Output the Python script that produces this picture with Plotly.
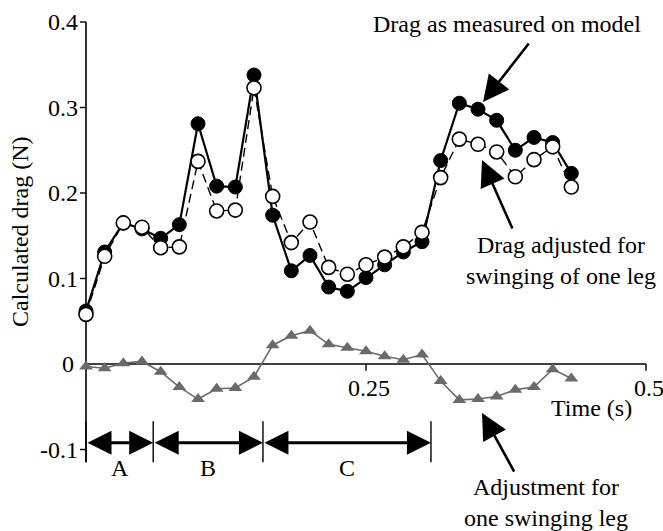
import plotly.graph_objects as go

# Time base: one frame every 1/60 s
n_frames = 27
time_s = [i / 60 for i in range(n_frames)]

# Drag as measured on the model (N)
drag_measured = [0.062, 0.131, 0.165, 0.158, 0.147, 0.163, 0.281, 0.208, 0.207, 0.338,
                 0.174, 0.109, 0.127, 0.090, 0.085, 0.101, 0.116, 0.131, 0.143, 0.238,
                 0.305, 0.298, 0.285, 0.250, 0.265, 0.259, 0.223]

# Drag adjusted for the swinging of one leg (N)
drag_adjusted = [0.058, 0.126, 0.165, 0.160, 0.136, 0.137, 0.237, 0.179, 0.180, 0.323,
                 0.196, 0.142, 0.166, 0.113, 0.105, 0.116, 0.125, 0.137, 0.154, 0.218,
                 0.263, 0.257, 0.248, 0.219, 0.239, 0.254, 0.207]

# Adjustment for one swinging leg (N)
adjustment = [-0.003, -0.005, 0.001, 0.003, -0.009, -0.027, -0.041, -0.029, -0.028, -0.015,
              0.022, 0.033, 0.039, 0.023, 0.019, 0.015, 0.009, 0.005, 0.011, -0.020,
              -0.042, -0.041, -0.038, -0.030, -0.027, -0.006, -0.017]

# Stride phases (s)
phase_names = ["A", "B", "C"]
phase_bounds = [0.0, 0.06, 0.158, 0.308]

# Axis ticks
y_ticks = [0.4, 0.3, 0.2, 0.1, 0.0, -0.1]
y_tick_labels = ["0.4", "0.3", "0.2", "0.1", "0", "-0.1"]
x_ticks = [0.25, 0.5]
x_tick_labels = ["0.25", "0.5"]

FONT = "'Liberation Serif', 'Times New Roman', 'DejaVu Serif', serif"
FS = 24
GREY = "#6a6a6a"

fig = go.Figure()

fig.add_trace(go.Scatter(
    x=time_s, y=adjustment, mode="lines+markers",
    line=dict(color=GREY, width=1.6),
    marker=dict(symbol="triangle-up", size=12, color=GREY, line=dict(width=0)),
    hoverinfo="skip"))

fig.add_trace(go.Scatter(
    x=time_s, y=drag_measured, mode="lines+markers",
    line=dict(color="black", width=2.2),
    marker=dict(symbol="circle", size=14, color="black", line=dict(color="black", width=1)),
    hoverinfo="skip"))

fig.add_trace(go.Scatter(
    x=time_s, y=drag_adjusted, mode="lines+markers",
    line=dict(color="black", width=1.4, dash="9px,5px"),
    marker=dict(symbol="circle", size=14, color="white", line=dict(color="black", width=1.6)),
    hoverinfo="skip"))

shapes = []
# y axis line through x = 0
shapes.append(dict(type="line", xref="x", yref="y", x0=0, x1=0, y0=-0.115, y1=0.4,
                   line=dict(color="black", width=1.6), layer="below"))
# x axis line through y = 0
shapes.append(dict(type="line", xref="x", yref="y", x0=0, x1=0.5, y0=0, y1=0,
                   line=dict(color="black", width=1.6), layer="below"))

annotations = []
for v, lab in zip(y_ticks, y_tick_labels):
    if v != 0:
        shapes.append(dict(type="line", xref="x", yref="y", x0=-0.0054, x1=0, y0=v, y1=v,
                           line=dict(color="black", width=1.4)))
    annotations.append(dict(x=-0.0054, y=v, xref="x", yref="y", text=lab, showarrow=False,
                            xanchor="right", yanchor="middle",
                            xshift=-4 if v == 0 else 0,
                            font=dict(family=FONT, size=FS, color="black")))

for v, lab in zip(x_ticks, x_tick_labels):
    shapes.append(dict(type="line", xref="x", yref="y", x0=v, x1=v, y0=0, y1=-0.008,
                       line=dict(color="black", width=1.4)))
    annotations.append(dict(x=v, y=-0.011, xref="x", yref="y", text=lab, showarrow=False,
                            xanchor="center", yanchor="top", xshift=3,
                            font=dict(family=FONT, size=FS, color="black")))

# Phase boundaries, double-headed arrows and labels
for b in phase_bounds:
    shapes.append(dict(type="line", xref="x", yref="y", x0=b, x1=b, y0=-0.067, y1=-0.115,
                       line=dict(color="black", width=1.4)))
for name, a, b in zip(phase_names, phase_bounds[:-1], phase_bounds[1:]):
    annotations.append(dict(x=b, y=-0.092, ax=a, ay=-0.092, xref="x", yref="y",
                            axref="x", ayref="y", text="", showarrow=True,
                            arrowhead=2, startarrowhead=2, arrowside="end+start",
                            arrowsize=1.6, startarrowsize=1.6, arrowwidth=3,
                            arrowcolor="black", standoff=0, startstandoff=0))
    annotations.append(dict(x=(a + b) / 2, y=-0.104, xref="x", yref="y", text=name,
                            showarrow=False, xanchor="center", yanchor="top",
                            font=dict(family=FONT, size=FS, color="black")))

# Axis titles
annotations.append(dict(x=-0.0589, y=0.1544, xref="x", yref="y", text="Calculated drag (N)",
                        showarrow=False, textangle=-90, xanchor="center", yanchor="middle",
                        font=dict(family=FONT, size=FS, color="black")))
annotations.append(dict(x=0.4509, y=-0.0515, xref="x", yref="y", text="Time (s)",
                        showarrow=False, xanchor="center", yanchor="middle",
                        font=dict(family=FONT, size=FS, color="black")))

# Series callouts
annotations.append(dict(x=0.3759, y=0.398, xref="x", yref="y", text="Drag as measured on model",
                        showarrow=False, xanchor="center", yanchor="middle",
                        font=dict(family=FONT, size=FS, color="black")))
annotations.append(dict(x=0.3545, y=0.3064, ax=0.3964, ay=0.3766, xref="x", yref="y",
                        axref="x", ayref="y", text="", showarrow=True, arrowhead=2,
                        arrowsize=2, arrowwidth=2.6, arrowcolor="black", standoff=0))

annotations.append(dict(x=0.4241, y=0.1205, xref="x", yref="y",
                        text="Drag adjusted for<br>swinging of one leg",
                        showarrow=False, xanchor="center", yanchor="middle", align="center",
                        font=dict(family=FONT, size=FS, color="black")))
annotations.append(dict(x=0.3536, y=0.2386, ax=0.3813, ay=0.1567, xref="x", yref="y",
                        axref="x", ayref="y", text="", showarrow=True, arrowhead=2,
                        arrowsize=2, arrowwidth=2.6, arrowcolor="black", standoff=0))

annotations.append(dict(x=0.4107, y=-0.1614, xref="x", yref="y",
                        text="Adjustment for<br>one swinging leg",
                        showarrow=False, xanchor="center", yanchor="middle", align="center",
                        font=dict(family=FONT, size=FS, color="black")))
annotations.append(dict(x=0.3536, y=-0.0573, ax=0.3830, ay=-0.1275, xref="x", yref="y",
                        axref="x", ayref="y", text="", showarrow=True, arrowhead=2,
                        arrowsize=2, arrowwidth=2.6, arrowcolor="black", standoff=0))

fig.update_layout(
    width=663, height=531,
    margin=dict(l=0, r=0, t=0, b=0),
    paper_bgcolor="white", plot_bgcolor="white",
    showlegend=False,
    font=dict(family=FONT, size=FS, color="black"),
    xaxis=dict(range=[-86 / 1120, 0.5 + 17 / 1120], visible=False, fixedrange=True),
    yaxis=dict(range=[-167 / 855, 0.4 + 22 / 855], visible=False, fixedrange=True),
    shapes=shapes,
    annotations=annotations,
)

fig.write_html("out.html")
